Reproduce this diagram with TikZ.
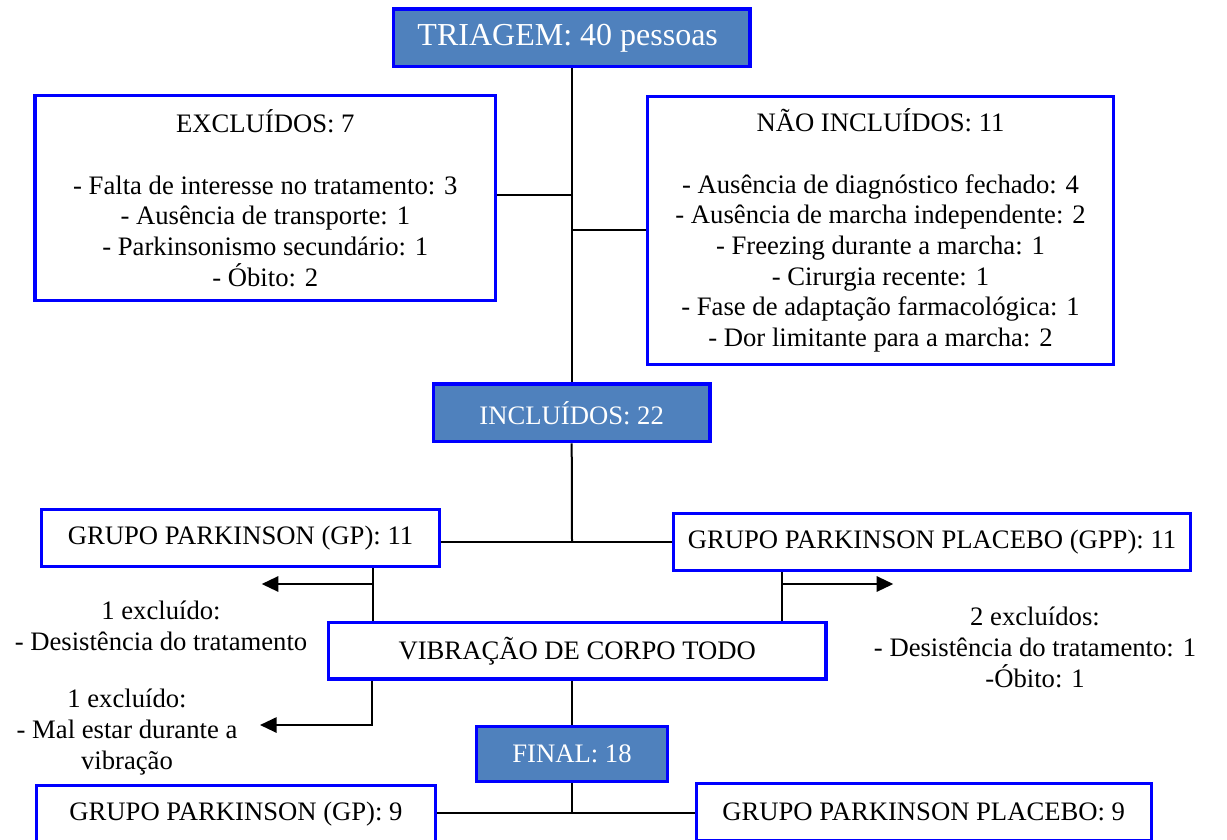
\documentclass[tikz,border=0pt]{standalone}
\usepackage{fontspec}
\setmainfont{Liberation Serif}
\usetikzlibrary{arrows.meta}
\definecolor{boxblue}{RGB}{79,129,189}
\definecolor{edgeblue}{RGB}{0,0,255}
\begin{document}
\begin{tikzpicture}[x=0.75pt,y=-0.75pt,
  basebox/.style={draw=edgeblue, line width=2.5pt, inner sep=0pt, align=center, font=\fontsize{20}{23}\selectfont},
  wbox/.style={basebox, fill=white},
  bbox/.style={basebox, fill=boxblue, text=white},
  sz/.style 2 args={minimum width=#1*0.75pt, minimum height=#2*0.75pt},
  conn/.style={line width=1.5pt, black},
  arr/.style={conn, -{Triangle[length=12.5pt,width=11.5pt]}},
  lbl/.style={align=center, inner sep=0pt, font=\fontsize{20}{23}\selectfont}]
\clip (0,0) rectangle (1227,839);
\fill[white] (0,0) rectangle (1227,839);

% boxes
\node[bbox, sz={356.6}{57.6}, font=\fontsize{24}{28}\selectfont] (tri) at (571.7,37.8) {TRIAGEM: 40 pessoas\hspace*{6pt}};
\node[wbox, sz={460.7}{205}] (excl) at (265.3,198.3) {EXCLUÍDOS: 7\\[23pt]- Falta de interesse no tratamento: 3\\- Ausência de transporte: 1\\- Parkinsonismo secundário: 1\\- Óbito: 2};
\node[wbox, sz={465.7}{267.7}] (nincl) at (880.5,230.5) {NÃO INCLUÍDOS: 11\\[23pt]- Ausência de diagnóstico fechado: 4\\- Ausência de marcha independente: 2\\- Freezing durante a marcha: 1\\- Cirurgia recente: 1\\- Fase de adaptação farmacológica: 1\\- Dor limitante para a marcha: 2};
\node[bbox, sz={276.7}{57.7}] (incl) at (571.7,412.8) {INCLUÍDOS: 22};
\node[wbox, sz={397.7}{56.7}] (gp11) at (240.5,538) {GRUPO PARKINSON (GP): 11};
\node[wbox, sz={516.7}{56.7}] (gpp11) at (932,542) {GRUPO PARKINSON PLACEBO (GPP): 11};
\node[wbox, sz={497.7}{56.4}] (vib) at (577.2,650.8) {VIBRAÇÃO DE CORPO TODO};
\node[bbox, sz={190.7}{55}] (final) at (572,754.2) {FINAL: 18};
\node[wbox, sz={398.7}{56.7}] (gp9) at (236,814) {GRUPO PARKINSON (GP): 9};
\node[wbox, sz={455}{57}] (gpp9) at (923.7,812) {GRUPO PARKINSON PLACEBO: 9};

% side labels
\node[lbl] (ex1) at (161,626) {1 excluído:\\- Desistência do tratamento};
\node[lbl] (ex2) at (127,732) {1 excluído:\\- Mal estar durante a\\vibração};
\node[lbl] (ex3) at (1035,647.5) {2 excluídos:\\- Desistência do tratamento: 1\\-Óbito: 1};

% junction coordinates
\coordinate (j1) at (572,195);
\coordinate (j1r) at (572,230);
\coordinate (j2) at (572,542);
\coordinate (j3) at (572,812.7);
\coordinate (a1) at (373,584);
\coordinate (t1) at (261.7,584);
\coordinate (a2) at (782,584);
\coordinate (t2) at (893.3,584);
\coordinate (a3) at (372,725);
\coordinate (t3) at (260,725);

% connectors
\draw[conn] (tri.south) -- (incl.north);
\draw[conn] (excl.east |- j1) -- (j1);
\draw[conn] (j1r) -- (nincl.west |- j1r);
\draw[conn] (incl.south) -- (j2);
\draw[conn] (gp11.east |- j2) -- (gpp11.west |- j2);
\draw[conn] (gp11.south -| a1) -- (vib.north -| a1);
\draw[arr] (a1) -- (t1);
\draw[conn] (gpp11.south -| a2) -- (vib.north -| a2);
\draw[arr] (a2) -- (t2);
\draw[arr] (vib.south -| a3) -- (a3) -- (t3);
\draw[conn] (vib.south -| final.north) -- (final.north);
\draw[conn] (final.south) -- (j3);
\draw[conn] (gp9.east |- j3) -- (gpp9.west |- j3);
\end{tikzpicture}
\end{document}
